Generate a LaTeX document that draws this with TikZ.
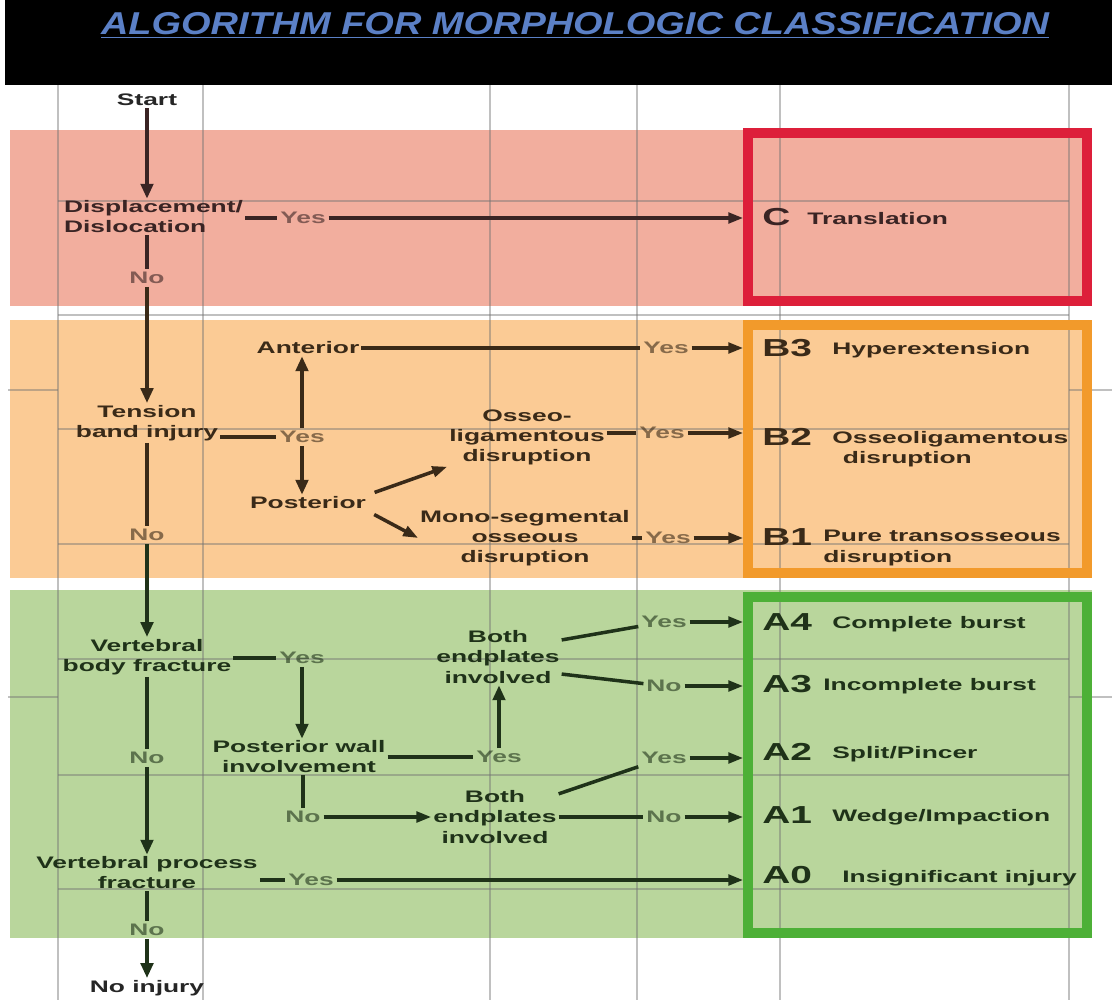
\documentclass[tikz,border=0pt]{standalone}
\usepackage{fontspec}
\setmainfont{Liberation Sans}[FakeStretch=1.58]
\newfontfamily\titlefont{Liberation Sans}[FakeStretch=1.2]
\usetikzlibrary{arrows.meta,positioning,calc}

\definecolor{bandred}{HTML}{F2AE9E}
\definecolor{bandorange}{HTML}{FBCB95}
\definecolor{bandgreen}{HTML}{B9D69C}
\definecolor{boxred}{HTML}{DD1F3A}
\definecolor{boxorange}{HTML}{F29A2B}
\definecolor{boxgreen}{HTML}{4DB037}
\definecolor{inkred}{HTML}{3A2424}
\definecolor{inkorange}{HTML}{3A2A18}
\definecolor{inkgreen}{HTML}{1F3219}
\definecolor{titleblue}{HTML}{5B80C6}
\colorlet{ink}{black!85}

\tikzset{
  q/.style={font=\bfseries\fontsize{9.5}{11.4}\selectfont, text=ink, align=center, inner sep=1pt},
  lbl/.style={font=\bfseries\fontsize{9.5}{11.4}\selectfont, text=ink, text opacity=0.6, inner sep=1.5pt},
  cls/.style={font=\bfseries\fontsize{14}{16}\selectfont, text=ink, inner sep=0pt, anchor=west},
  desc/.style={font=\bfseries\fontsize{9.5}{11.4}\selectfont, text=ink, inner sep=0pt, anchor=west, align=left},
  flow/.style={draw=ink, line width=2.6pt, -{Triangle[length=8.5pt,width=7pt]}},
  spine/.style={draw=ink, line width=2.6pt},
  link/.style={draw=ink, line width=2pt},
  arr/.style={draw=ink, line width=2pt, -{Triangle[length=8.5pt,width=6pt]}},
  gridline/.style={draw=black!55, opacity=0.45, line width=0.6pt},
  classbox/.style={draw=#1, line width=5.5pt, minimum width=6.78cm, inner sep=0pt},
  titletext/.style={font=\titlefont\bfseries\itshape\fontsize{18}{20}\selectfont, text=titleblue, inner sep=0pt}
}

\begin{document}
\begin{tikzpicture}[x=0.02cm, y=-0.02cm]
    \useasboundingbox (0,0) rectangle (1112,1000);

    % Title bar
    \fill[black] (5,0) rectangle (1112,85);
    \node[titletext] (title) at (575,25) {\underline{ALGORITHM FOR MORPHOLOGIC CLASSIFICATION}};

    % Colour bands
    \fill[bandred] (10,130) rectangle (1092,306);
    \fill[bandorange] (10,320) rectangle (1092,578);
    \fill[bandgreen] (10,590) rectangle (1092,938);

    % Sheet grid
    \foreach \gx in {58,203,490,637,780,1069}
        \draw[gridline] (\gx,85) -- (\gx,1000);
    \foreach \gy in {201,315,429,544,659,775,889}
        \draw[gridline] (58,\gy) -- (1069,\gy);
    \draw[gridline] (8,390) -- (58,390) (1069,390) -- (1112,390);
    \draw[gridline] (8,697) -- (58,697) (1069,697) -- (1112,697);

    % Class boxes
    \node[classbox=boxred, minimum height=3.36cm] (Cbox) at (917.5,217) {};
    \node[classbox=boxorange, minimum height=4.96cm] (Bbox) at (917.5,449) {};
    \node[classbox=boxgreen, minimum height=6.72cm] (Abox) at (917.5,765) {};

    \node[q] (start) at (147,100) {Start};

    % Type C
    \begin{scope}
        \colorlet{ink}{inkred}
        \node[q, anchor=west, align=left] (disp) at (62,217) {Displacement/\\Dislocation};
        \node[lbl] (dispyes) at (303,218) {Yes};
        \node[lbl] (dispno) at (147,278) {No};
        \node[cls] (C) at (762,217) {C};
        \node[desc] (Ctxt) at (807,219) {Translation};
        \draw[flow] (start) -- (start |- disp.north);
        \draw[link] (disp.east |- dispyes) -- (dispyes);
        \draw[arr] (dispyes) -- (dispyes -| Cbox.west);
        \draw[spine] (start |- disp.south) -- (dispno.north);
    \end{scope}

    % Type B
    \begin{scope}
        \colorlet{ink}{inkorange}
        \node[q] (tension) at (147,423) {Tension\\band injury};
        \node[lbl] (tenyes) at (302,437) {Yes};
        \node[lbl] (tenno) at (147,535) {No};
        \node[q] (ant) at (308,348) {Anterior};
        \node[q] (post) at (308,503) {Posterior};
        \node[q] (osseo) at (527,437) {Osseo-\\ligamentous\\disruption};
        \node[q] (mono) at (525,538) {Mono-segmental\\osseous\\disruption};
        \node[lbl] (antyes) at (666,348) {Yes};
        \node[lbl] (osyes) at (662,433) {Yes};
        \node[lbl] (monoyes) at (668,538) {Yes};
        \node[cls] (B3) at (762,348) {B3};
        \node[desc] (B3txt) at (832,350) {Hyperextension};
        \node[cls] (B2) at (762,437) {B2};
        \node[desc] (B2txt) at (832,449) {Osseoligamentous\\\hspace*{6pt}disruption};
        \node[cls] (B1) at (762,537) {B1};
        \node[desc] (B1txt) at (823,548) {Pure transosseous\\disruption};
        \draw[flow] (dispno) -- (tension);
        \draw[link] (tension.east |- tenyes) -- (tenyes);
        \draw[flow] (tenyes) -- (tenyes |- ant.south);
        \draw[flow] (tenyes) -- (tenyes |- post.north);
        \draw[link] (ant) -- (antyes);
        \draw[arr] (antyes) -- (antyes -| Bbox.west);
        \draw[arr, shorten <=4pt] (post.north east) -- (osseo.south west);
        \draw[arr, shorten <=4pt] (post.south east) -- (mono.west);
        \draw[link] (osseo.east |- osyes) -- (osyes);
        \draw[arr] (osyes) -- (osyes -| Bbox.west);
        \draw[link] (mono.east |- monoyes) -- (monoyes);
        \draw[arr] (monoyes) -- (monoyes -| Bbox.west);
        \draw[spine] (tension.south) -- (tenno.north);
    \end{scope}

    % Type A
    \begin{scope}
        \colorlet{ink}{inkgreen}
        \node[q] (body) at (147,657) {Vertebral\\body fracture};
        \node[lbl] (bodyyes) at (302,658) {Yes};
        \node[lbl] (bodyno) at (147,758) {No};
        \node[q] (wall) at (299,757) {Posterior wall\\involvement};
        \node[lbl] (wallyes) at (499,757) {Yes};
        \node[lbl] (wallno) at (303,817) {No};
        \node[q] (both1) at (498,657) {Both\\endplates\\involved};
        \node[q] (both2) at (495,817) {Both\\endplates\\involved};
        \node[lbl] (b1yes) at (664,622) {Yes};
        \node[lbl] (b1no) at (664,686) {No};
        \node[lbl] (b2yes) at (664,758) {Yes};
        \node[lbl] (b2no) at (664,817) {No};
        \node[q] (proc) at (147,873) {Vertebral process\\fracture};
        \node[lbl] (procyes) at (311,880) {Yes};
        \node[lbl] (procno) at (147,930) {No};
        \node[cls] (A4) at (762,622) {A4};
        \node[desc] (A4txt) at (832,624) {Complete burst};
        \node[cls] (A3) at (762,684) {A3};
        \node[desc] (A3txt) at (823,686) {Incomplete burst};
        \node[cls] (A2) at (762,752) {A2};
        \node[desc] (A2txt) at (832,754) {Split/Pincer};
        \node[cls] (A1) at (762,815) {A1};
        \node[desc] (A1txt) at (832,817) {Wedge/Impaction};
        \node[cls] (A0) at (762,875) {A0};
        \node[desc] (A0txt) at (842,878) {Insignificant injury};
        \draw[flow] (tenno) -- (body);
        \draw[link] (body.east |- bodyyes) -- (bodyyes);
        \draw[flow] (bodyyes) -- (bodyyes |- wall.north);
        \draw[link] (wall.east |- wallyes) -- (wallyes);
        \draw[flow] (wallyes) -- (wallyes |- both1.south);
        \draw[link] (both1.15) -- (b1yes);
        \draw[link] (both1.-15) -- (b1no);
        \draw[arr] (b1yes) -- (b1yes -| Abox.west);
        \draw[arr] (b1no) -- (b1no -| Abox.west);
        \draw[spine] (wallno |- wall.south) -- (wallno.north);
        \draw[arr] (wallno) -- (both2);
        \draw[link] (both2.20) -- (b2yes);
        \draw[link] (both2) -- (b2no);
        \draw[arr] (b2yes) -- (b2yes -| Abox.west);
        \draw[arr] (b2no) -- (b2no -| Abox.west);
        \draw[spine] (body.south) -- (bodyno.north);
        \draw[flow] (bodyno) -- (proc);
        \draw[link] (proc.east |- procyes) -- (procyes);
        \draw[arr] (procyes) -- (procyes -| Abox.west);
        \draw[spine] (proc.south) -- (procno.north);
    \end{scope}

    \node[q] (noinj) at (147,988) {No injury};
    \draw[flow, draw=inkgreen] (procno) -- (noinj);
\end{tikzpicture}
\end{document}
